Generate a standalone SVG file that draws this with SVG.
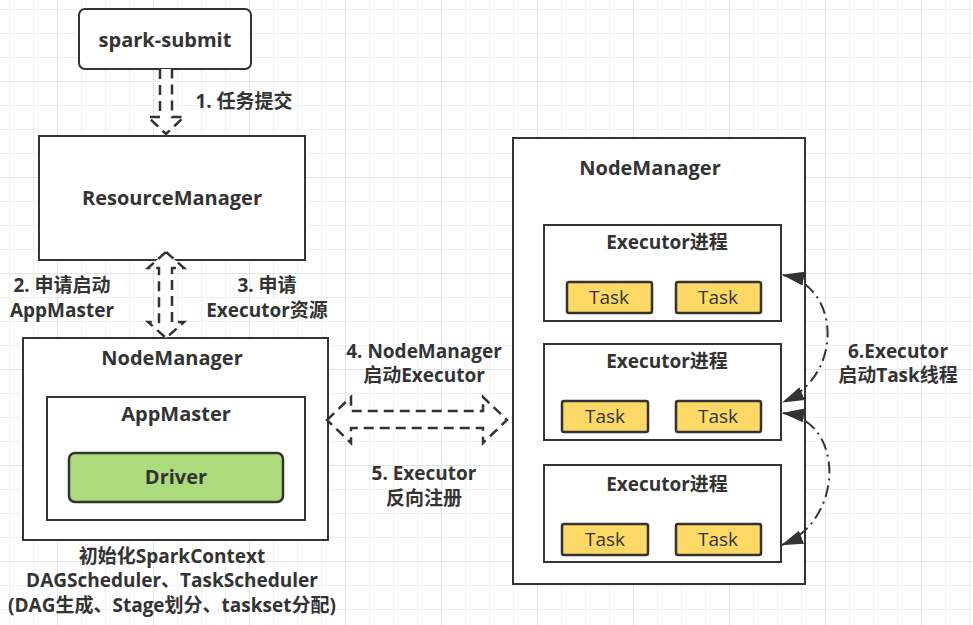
<svg xmlns="http://www.w3.org/2000/svg" width="973" height="625" viewBox="0 0 973 625">
<defs>
<style>
.box{fill:#fff;stroke:#333;stroke-width:2}
.drv{fill:#acdb7c;stroke:#333;stroke-width:2.5}
.task{fill:#ffd966;stroke:#333;stroke-width:2.5}
.t{font-family:"Open Sans","Noto Sans CJK SC",sans-serif;font-weight:bold;fill:#333;text-anchor:middle;font-size:20px}
.te{font-family:"Open Sans","Noto Sans CJK SC",sans-serif;font-weight:bold;fill:#333;text-anchor:middle;font-size:19px}
.tl{font-family:"Open Sans","Noto Sans CJK SC",sans-serif;font-weight:bold;fill:#333;text-anchor:middle;font-size:19px}
.tn{font-family:"Open Sans","Noto Sans CJK SC",sans-serif;font-weight:normal;fill:#333;text-anchor:middle;font-size:19px}
.blk{fill:#fff;stroke:#333;stroke-width:2.5;stroke-dasharray:10 6}
.dd{fill:none;stroke:#333;stroke-width:2;stroke-dasharray:12 5 2 5}
</style>
<pattern id="minor" patternUnits="userSpaceOnUse" x="-3" y="-3" width="24" height="24">
<path d="M0 12.5H24M12.5 0V24" stroke="#f1f1f1" stroke-width="1" fill="none"/>
</pattern>
<pattern id="major" patternUnits="userSpaceOnUse" x="9" y="33" width="96" height="96">
<path d="M0 48.5H96M48.5 0V96" stroke="#e4e4e4" stroke-width="1" fill="none"/>
</pattern>
<marker id="ah" viewBox="0 0 22 14" refX="21" refY="7" markerWidth="22" markerHeight="14" markerUnits="userSpaceOnUse" orient="auto-start-reverse">
<path d="M0 0L22 7L0 14Z" fill="#333"/>
</marker>
</defs>
<rect width="973" height="625" fill="#fff"/>
<rect width="973" height="625" fill="url(#minor)"/>
<rect width="973" height="625" fill="url(#major)"/>

<g id="spark-submit">
<rect class="box" x="79" y="9" width="172" height="60" rx="6"/>
<text class="t" x="165" y="47">spark-submit</text>
</g>
<g id="resource-manager">
<rect class="box" x="39" y="136" width="266" height="124"/>
<text class="t" x="172" y="205">ResourceManager</text>
</g>
<g id="node-manager-left">
<rect class="box" x="23" y="338" width="305" height="202"/>
<text class="t" x="172" y="365">NodeManager</text>
</g>
<g id="app-master">
<rect class="box" x="47" y="397" width="258" height="123"/>
<text class="t" x="176" y="421">AppMaster</text>
</g>
<g id="driver">
<rect class="drv" x="69" y="453" width="214" height="49" rx="6"/>
<text class="t" x="176" y="484">Driver</text>
</g>
<g id="node-manager-right">
<rect class="box" x="513" y="138" width="292" height="446"/>
<text class="t" x="650" y="175">NodeManager</text>
</g>
<g id="executor-1">
<rect class="box" x="544" y="225" width="237" height="96"/>
<text class="te" x="667" y="249">Executor进程</text>
</g>
<g id="task-1a"><rect class="task" x="567" y="282" width="85" height="31" rx="2"/><text class="tn" x="609" y="304">Task</text></g>
<g id="task-1b"><rect class="task" x="676" y="282" width="85" height="31" rx="2"/><text class="tn" x="718" y="304">Task</text></g>
<g id="executor-2">
<rect class="box" x="544" y="344" width="237" height="96"/>
<text class="te" x="667" y="368">Executor进程</text>
</g>
<g id="task-2a"><rect class="task" x="562" y="401" width="86" height="31" rx="2"/><text class="tn" x="605" y="423">Task</text></g>
<g id="task-2b"><rect class="task" x="676" y="401" width="85" height="31" rx="2"/><text class="tn" x="718" y="423">Task</text></g>
<g id="executor-3">
<rect class="box" x="544" y="465" width="237" height="97"/>
<text class="te" x="667" y="491">Executor进程</text>
</g>
<g id="task-3a"><rect class="task" x="562" y="524" width="86" height="31" rx="2"/><text class="tn" x="605" y="546">Task</text></g>
<g id="task-3b"><rect class="task" x="676" y="524" width="85" height="31" rx="2"/><text class="tn" x="718" y="546">Task</text></g>

<g id="connectors">
<path class="blk" d="M160 69V117H148L166 134L184 117H172V69"/>
<path class="blk" d="M166 252L184 268H172V322H184L166 338L148 322H159V268H148Z"/>
<path class="blk" d="M327 420L351 397V411H483V397L507 420L483 443V428H351V443Z"/>
<path class="dd" d="M783 275C840 285 845 375 783 402" marker-start="url(#ah)" marker-end="url(#ah)"/>
<path class="dd" d="M783 413C845 420 845 520 782 545" marker-start="url(#ah)" marker-end="url(#ah)"/>
</g>

<g id="labels">
<text class="tl" x="244" y="108">1. 任务提交</text>
<text class="tl" x="62" y="292">2. 申请启动</text>
<text class="tl" x="62" y="317">AppMaster</text>
<text class="tl" x="267" y="292">3. 申请</text>
<text class="tl" x="267" y="317">Executor资源</text>
<text class="tl" x="424" y="358">4. NodeManager</text>
<text class="tl" x="424" y="382">启动Executor</text>
<text class="tl" x="424" y="480">5. Executor</text>
<text class="tl" x="424" y="505">反向注册</text>
<text class="tl" x="898" y="358">6.Executor</text>
<text class="tl" x="898" y="382">启动Task线程</text>
<text class="tl" x="172" y="563">初始化SparkContext</text>
<text class="tl" x="172" y="587">DAGScheduler、TaskScheduler</text>
<text class="tl" x="172" y="612">(DAG生成、Stage划分、taskset分配)</text>
</g>
</svg>
